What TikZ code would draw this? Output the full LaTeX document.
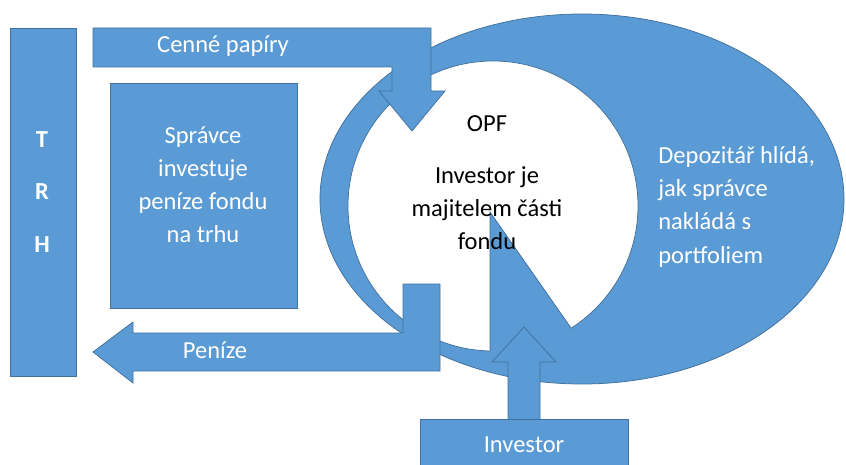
\documentclass[tikz,border=0pt]{standalone}
\usepackage{fontspec}
\setmainfont{Carlito}
\usepackage{xcolor}
\usepackage{tikz}
\definecolor{boxblue}{HTML}{5B9BD5}
\definecolor{edgeblue}{HTML}{41719C}

\begin{document}
\begin{tikzpicture}[x=1pt, y=-1pt, line width=0.75pt, node distance=52pt, inner sep=0pt,
  block/.style={draw=edgeblue, fill=boxblue},
  white text/.style={text=white, align=center, anchor=base}]
\useasboundingbox (0,0) rectangle (846,465);
\clip (0,0) rectangle (846,465);
\tikzstyle{every node}=[font=\fontsize{24.5}{33.3}\selectfont]

\filldraw [block] (582,199) ellipse [x radius=262, y radius=185];
\filldraw [draw=edgeblue, fill=white] (493,206) circle [radius=145];
\fill [boxblue] (490,212) -- (571,328) -- (560,340) -- (530,350) -- (490,356) -- cycle;
\draw [edgeblue] (490,351) -- (490,212) -- (571,328);

\filldraw [block] (93,28) -- (431,28) -- (431,91) -- (445,91) -- (412,131) -- (379,91) -- (392,91) -- (392,67) -- (93,67) -- cycle;
\filldraw [block] (440,284) -- (440,371) -- (133,371) -- (133,383) -- (93,352) -- (133,322) -- (133,333) -- (403,333) -- (403,284) -- cycle;
\filldraw [block] (508,420) -- (508,362) -- (492,362) -- (524,327) -- (556,362) -- (540,362) -- (540,420) -- cycle;

\node [block, minimum width=66, minimum height=348] (trh) at (43,202) {};
\node [block, minimum width=187, minimum height=225] (spravce) at (203.5,195.5) {};
\node [block, minimum width=208, minimum height=60] (investor) at (524,449) {};

\node [white text, font=\fontsize{24.5}{33.3}\selectfont\bfseries] (t) at (42,148) {T};
\node [white text, font=\fontsize{24.5}{33.3}\selectfont\bfseries, below of=t] (r) {R};
\node [white text, font=\fontsize{24.5}{33.3}\selectfont\bfseries, below of=r] (h) {H};
\node [white text] (spravcetext) at (203,243) {Správce\\investuje\\peníze fondu\\na trhu};
\node [white text] (papiry) at (223,53) {Cenné papíry};
\node [white text] (penize) at (215,358) {Peníze};
\node [white text] (investortext) at (524,452) {Investor};
\node [white text, align=left, anchor=base west] (depozitar) at (658,263) {Depozitář hlídá,\\jak správce\\nakládá s\\portfoliem};
\node [anchor=base] (opf) at (487,132) {OPF};
\node [anchor=base, align=center] (majitel) at (487,250) {Investor je\\majitelem části\\fondu};
\end{tikzpicture}
\end{document}
